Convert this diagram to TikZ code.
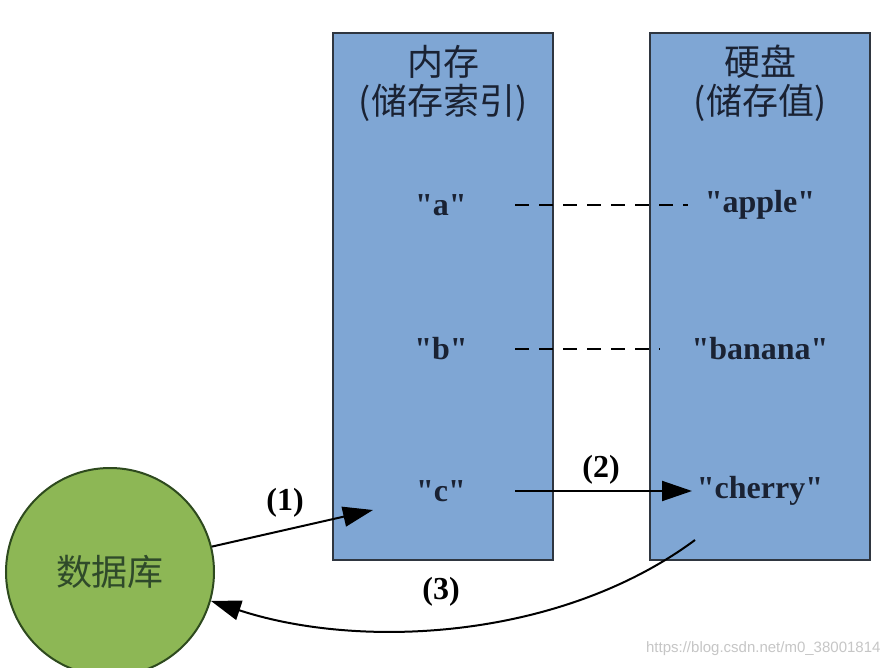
\documentclass[tikz,border=0pt]{standalone}
\usepackage{fontspec}
\setmainfont{Liberation Serif}
\newfontfamily\cjk{Noto Sans CJK SC}
\newfontfamily\wmfont{Liberation Sans}
\usetikzlibrary{arrows.meta}
\definecolor{boxblue}{HTML}{7FA6D4}
\definecolor{boxline}{HTML}{2F3640}
\definecolor{dbgreen}{HTML}{8DB755}
\definecolor{dbline}{HTML}{2E4A1E}
\definecolor{dbtext}{HTML}{2F4A2A}
\definecolor{txt}{HTML}{1A2233}
\newcommand{\qd}{\textquotedbl}
\begin{document}
\begin{tikzpicture}[x=1pt,y=-1pt,
  store/.style={draw=boxline,line width=2pt,fill=boxblue,minimum width=220pt,minimum height=527pt,inner sep=0pt},
  title/.style={font=\cjk\fontsize{36}{38}\selectfont,text=txt,inner sep=0pt},
  item/.style={font=\bfseries\fontsize{32}{34}\selectfont,text=txt,inner sep=0pt},
  lbl/.style={font=\bfseries\fontsize{32}{34}\selectfont,text=black,inner sep=0pt},
  conn/.style={line width=2pt,draw=black},
  tip/.style={-{Triangle[length=30pt,width=20pt]}}
]
\useasboundingbox[fill=white] (0,0) rectangle (892,668);
\node[store] (mem) at (443,296.5) {};
\node[store] (disk) at (760,296.5) {};
\node[title] (memt1) at (443,62) {内存};
\node[title] (memt2) at (443,103) {(储存索引)};
\node[title] (diskt1) at (760,62) {硬盘};
\node[title] (diskt2) at (760,103) {(储存值)};
\node[item] (a) at (441,205) {\qd a\qd};
\node[item] (b) at (441,349) {\qd b\qd};
\node[item] (c) at (441,491) {\qd c\qd};
\node[item] (apple) at (760,205) {\qd apple\qd};
\node[item] (banana) at (760,349) {\qd banana\qd};
\node[item] (cherry) at (760,491) {\qd cherry\qd};
\node[circle,draw=dbline,line width=2pt,fill=dbgreen,minimum size=208pt,inner sep=0pt,
      font=\cjk\fontsize{36}{38}\selectfont,text=dbtext] (db) at (110,572) {数据库};
\coordinate (ad1) at (515,205); \coordinate (ad2) at (688,205);
\coordinate (bd1) at (515,349); \coordinate (bd2) at (660,349);
\draw[conn,dashed,dash pattern=on 14pt off 10pt] (ad1) -- (ad2);
\draw[conn,dashed,dash pattern=on 14pt off 10pt] (bd1) -- (bd2);
\coordinate (c1) at (515,491); \coordinate (c2) at (692,491);
\draw[conn,tip] (c1) -- (c2);
\node[lbl] (l2) at (601,470) {(2)};
\coordinate (m1) at (373,510);
\draw[conn,tip] (db.14) -- (m1);
\node[lbl] (l1) at (285,503) {(1)};
\coordinate (d3) at (695,540);
\draw[conn,tip] (d3) .. controls (560,640) and (360,650) .. (db.-16);
\node[lbl] (l3) at (441,592) {(3)};
\node[font=\wmfont\fontsize{15}{16}\selectfont,text=gray!45,anchor=east] (wm) at (884,649) {https://blog.csdn.net/m0\_38001814};
\end{tikzpicture}
\end{document}
